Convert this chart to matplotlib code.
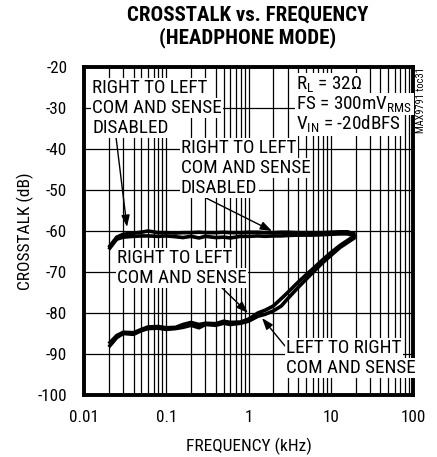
import matplotlib
matplotlib.use("Agg")
import matplotlib.pyplot as plt
import numpy as np
from matplotlib.ticker import LogLocator, NullFormatter

plt.rcParams['font.family'] = ['Roboto Condensed', 'DejaVu Sans']
plt.rcParams['mathtext.default'] = 'regular'

freq = [0.02, 0.025, 0.03, 0.04, 0.05, 0.06, 0.08, 0.1, 0.13, 0.16, 0.2, 0.25, 0.3, 0.4,
        0.5, 0.6, 0.8, 1, 1.3, 1.6, 2, 2.5, 3, 4, 5, 6, 8, 10, 13, 16, 20]
rl_disabled_a = [-64.0, -61.5, -60.8, -60.5, -60.3, -60.0, -60.4, -60.4, -60.5, -60.4, -60.4,
                 -60.3, -60.4, -60.4, -60.3, -60.4, -60.4, -60.3, -60.3, -60.4, -60.4, -60.3,
                 -60.3, -60.4, -60.4, -60.4, -60.4, -60.3, -60.2, -60.2, -60.8]
rl_disabled_b = [-64.5, -62.0, -61.5, -61.3, -61.2, -61.2, -61.3, -61.2, -61.4, -61.6, -61.3,
                 -61.7, -61.3, -61.6, -61.5, -61.7, -61.3, -61.3, -61.2, -61.3, -61.2, -61.2,
                 -61.1, -61.0, -61.0, -61.0, -60.9, -60.8, -60.7, -60.7, -61.2]
rl_com_sense = [-87.5, -85.5, -84.7, -84.8, -84.0, -83.4, -83.3, -83.6, -83.5, -82.8, -82.3,
                -82.8, -82.5, -82.6, -82.0, -82.3, -82.2, -81.5, -80.0, -79.3, -78.3, -76.5,
                -75.0, -72.5, -70.7, -69.3, -67.0, -65.3, -63.5, -62.3, -61.0]
lr_com_sense = [-88.3, -86.0, -85.0, -85.2, -84.3, -83.8, -83.7, -84.0, -83.8, -83.5, -83.0,
                -83.6, -82.8, -83.0, -82.5, -82.8, -82.5, -82.0, -80.8, -80.3, -79.5, -78.3,
                -76.5, -73.8, -71.8, -70.2, -67.7, -66.0, -64.0, -62.8, -61.5]
x_ticks = [0.01, 0.1, 1, 10, 100]
x_labels = ['0.01', '0.1', '1', '10', '100']
y_ticks = [-20, -30, -40, -50, -60, -70, -80, -90, -100]

fig = plt.figure(figsize=(4.37, 4.57), dpi=100)
ax = fig.add_axes([84/437, 1-395/457, 329/437, 328/457])

for s in (rl_disabled_a, rl_disabled_b, rl_com_sense, lr_com_sense):
    ax.plot(freq, s, color='black', lw=2.6, solid_capstyle='butt', zorder=3)

ax.set_xscale('log')
ax.set_xlim(0.01, 100)
ax.set_ylim(-100, -20)
ax.set_xticks(x_ticks)
ax.set_xticklabels(x_labels)
ax.xaxis.set_minor_locator(LogLocator(base=10, subs=np.arange(2, 10)))
ax.xaxis.set_minor_formatter(NullFormatter())
ax.set_yticks(y_ticks)
ax.set_yticklabels([str(v) for v in y_ticks])
ax.grid(True, which='both', axis='x', color='black', lw=0.9)
ax.grid(True, which='major', axis='y', color='black', lw=0.9)
ax.tick_params(which='both', length=0, labelsize=12.3)
ax.tick_params(axis='x', pad=11)
ax.tick_params(axis='y', pad=12)
for sp in ax.spines.values():
    sp.set_linewidth(2.8)
ax.set_axisbelow(True)

ax.set_xlabel('FREQUENCY (kHz)', fontsize=12.5, labelpad=9)
ax.set_ylabel('CROSSTALK (dB)', fontsize=12.5, labelpad=3)

fig.text(0.567, 1 - 27/457, 'CROSSTALK vs. FREQUENCY\n(HEADPHONE MODE)', ha='center', va='center',
         fontsize=15, fontweight='bold', linespacing=1.2)

def px(x, y):
    return (x/437, 1 - y/457)

def label_lines(lines, x, y0, dy):
    for i, t in enumerate(lines):
        fig.text(*px(x, y0 + i*dy), t, ha='left', va='center', fontsize=13.8,
                 bbox=dict(facecolor='white', edgecolor='none', pad=1.0), zorder=5)

label_lines(['RIGHT TO LEFT', 'COM AND SENSE', 'DISABLED'], 92, 88, 20)
label_lines(['RIGHT TO LEFT', 'COM AND SENSE', 'DISABLED'], 181, 148, 20)
label_lines(['R$_{L}$ = 32Ω', 'FS = 300mV$_{RMS}$', 'V$_{IN}$ = -20dBFS'], 296, 84, 20)
label_lines(['RIGHT TO LEFT', 'COM AND SENSE'], 117, 258, 20)
label_lines(['LEFT TO RIGHT', 'COM AND SENSE'], 286, 348, 20)

fig.text(*px(421, 100), 'MAX9791 toc31', rotation=90, ha='center', va='center', fontsize=7.5,
         bbox=dict(facecolor='white', edgecolor='none', pad=0.5))

def arrow(x0, y0, x1, y1):
    ax.annotate('', xy=px(x1, y1), xytext=px(x0, y0), xycoords='figure fraction',
                textcoords='figure fraction',
                arrowprops=dict(arrowstyle='-|>,head_length=0.7,head_width=0.25',
                                color='black', lw=1.0, shrinkA=0, shrinkB=0), zorder=6)

arrow(116, 137, 127, 227)
arrow(206, 198, 272, 231)
arrow(218, 284, 248, 313)
arrow(285, 346, 262, 318)

fig.savefig('out.png', dpi=100)
